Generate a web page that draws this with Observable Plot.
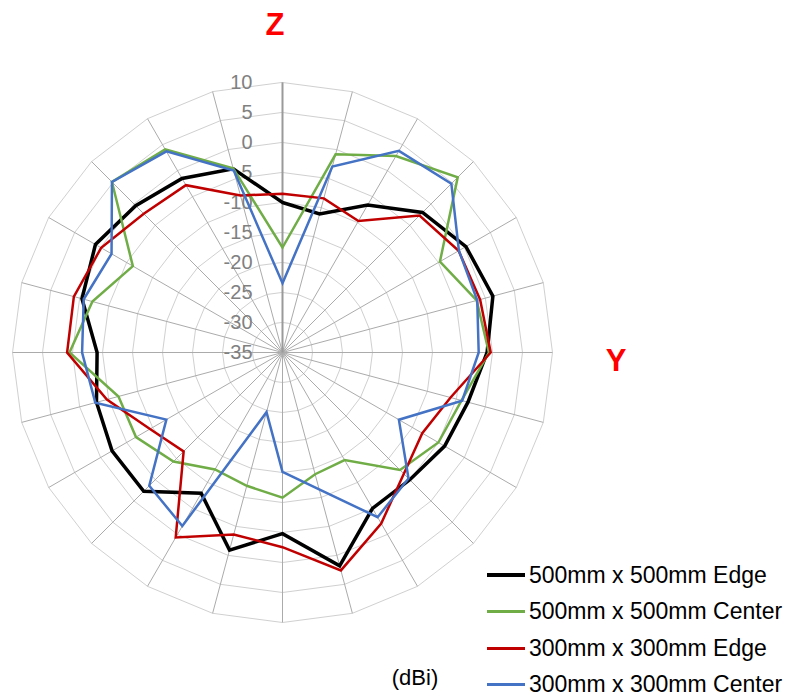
<!DOCTYPE html>
<html>
<head>
<meta charset="utf-8">
<script src="https://cdn.jsdelivr.net/npm/d3@7"></script>
<script src="https://cdn.jsdelivr.net/npm/@observablehq/plot@0.6"></script>
<style>
  html, body { margin: 0; padding: 0; background: #fff; }
  #wrap { position: relative; width: 788px; height: 697px; font-family: "Liberation Sans", Arial, sans-serif; }
  #wrap svg { position: absolute; left: 0; top: 0; }
  .axlbl { position: absolute; color: #ff0000; font-weight: bold; font-size: 31px; line-height: 1; transform: translateX(-50%); white-space: nowrap; }
  .unit { position: absolute; color: #000; font-size: 22px; line-height: 1; transform: translateX(-50%); white-space: nowrap; }
  .legend { position: absolute; left: 487px; top: 556.7px; }
  .legend .item { display: flex; align-items: center; height: 36.67px; }
  .legend .sw { width: 38px; height: 0; margin-right: 4px; }
  .legend .tx { font-size: 23px; line-height: 1; color: #000; white-space: nowrap; }
</style>
</head>
<body>
<div id="wrap"></div>
<script>
// ---- data ----
const angles = [0, 15, 30, 45, 60, 75, 90, 105, 120, 135, 150, 165, 180, 195, 210, 225, 240, 255, 270, 285, 300, 315, 330, 345];
const seriesNames = ["500mm x 500mm Edge", "500mm x 500mm Center", "300mm x 300mm Edge", "300mm x 300mm Center"];
const edge500   = [-10, -11.1, -6.6, -2, 0.3, 1.3, -0.9, -3, -3.8, -5, -5, 1.8, -4.8, -0.9, -7.9, -2.3, -2.2, -2.9, -4.1, -0.4, 1.0, -0.4, -1.5, -3.3];
const center500 = [-17.5, -0.8, 2.8, 6.3, -4.7, -1.5, -0.6, -4.1, -5.0, -7.3, -14.3, -14.0, -10.8, -12, -12.5, -9.3, -6.8, -6.7, 0.5, -2.2, -6.2, 5.2, 4.1, -3.2];
const edge300   = [-8.55, -8.4, -9.7, -2.7, -1.1, -0.9, -0.3, -6, -8.1, -6.4, -2.1, 2.6, -2.55, -3.6, 0.6, -11.7, -9.5, -4.7, 0.9, 1.0, -0.1, -2.3, -2.8, -7.9];
const center300 = [-23.45, -2.9, 3.8, 4.8, -1.05, -1.4, -2.3, -4.0, -12.6, -5.3, -3.3, -11.4, -15.1, -24.7, -1.6, -3.6, -12.65, -2.7, -1.6, -0.7, -2.1, 5.2, 3.7, -3.6];
const tickValues = [10, 5, 0, -5, -10, -15, -20, -25, -30, -35];

// ---- styles ----
const colors = ["#000000", "#70ad47", "#c00000", "#4472c4"];
const widths = [3.5, 2.5, 2.5, 2.5];
const rMin = -35, rMax = 10, span = rMax - rMin;
const font = "'Liberation Sans', Arial, sans-serif";

const values = [edge500, center500, edge300, center300];
const rad = a => a * Math.PI / 180;
const px = (a, v) => (v - rMin) * Math.sin(rad(a));
const py = (a, v) => (v - rMin) * Math.cos(rad(a));

const rings = tickValues.filter(t => t > rMin).flatMap(t => angles.map(a => ({t, a})));

const seriesMarks = seriesNames.map((name, i) =>
  Plot.line(angles.map((a, j) => ({a, v: values[i][j]})), {
    x: d => px(d.a, d.v), y: d => py(d.a, d.v),
    curve: "linear-closed", stroke: colors[i], strokeWidth: widths[i], strokeLinejoin: "miter", strokeMiterlimit: 3
  })
);

const cx = 282, cy = 352, Rpx = 270, W = 788, H = 697;
const chart = Plot.plot({
  width: W, height: H,
  marginLeft: cx - Rpx, marginRight: W - cx - Rpx,
  marginTop: cy - Rpx, marginBottom: H - cy - Rpx,
  style: {background: "transparent", fontFamily: font},
  x: {domain: [-span, span], axis: null},
  y: {domain: [-span, span], axis: null},
  marks: [
    Plot.line(rings, {x: d => px(d.a, d.t), y: d => py(d.a, d.t), z: "t", curve: "linear-closed", stroke: "#d0d0d0", strokeWidth: 1}),
    Plot.link(angles, {x1: () => 0, y1: () => 0, x2: a => px(a, rMax), y2: a => py(a, rMax), stroke: "#ababab", strokeWidth: 1}),
    Plot.link([0], {x1: () => 0, y1: () => 0, x2: () => 0, y2: () => span, stroke: "#9a9a9a", strokeWidth: 2}),
    Plot.text(tickValues, {x: () => 0, y: t => t - rMin, text: t => String(t), textAnchor: "end", dx: -30, fill: "#808080", fontSize: 20, fontFamily: font}),
    ...seriesMarks
  ]
});

const wrap = document.getElementById("wrap");
wrap.appendChild(chart);

function addDiv(cls, text, left, top) {
  const d = document.createElement("div");
  d.className = cls; d.textContent = text;
  d.style.left = left + "px"; d.style.top = top + "px";
  wrap.appendChild(d);
}
addDiv("axlbl", "Z", 275, 9);
addDiv("axlbl", "Y", 616, 345);
addDiv("unit", "(dBi)", 415, 667);

const lg = document.createElement("div");
lg.className = "legend";
seriesNames.forEach((name, i) => {
  const it = document.createElement("div"); it.className = "item";
  const sw = document.createElement("div"); sw.className = "sw";
  sw.style.borderTop = `${i === 0 ? 4 : 3}px solid ${colors[i]}`;
  const tx = document.createElement("div"); tx.className = "tx"; tx.textContent = name;
  it.appendChild(sw); it.appendChild(tx); lg.appendChild(it);
});
wrap.appendChild(lg);
</script>
</body>
</html>
